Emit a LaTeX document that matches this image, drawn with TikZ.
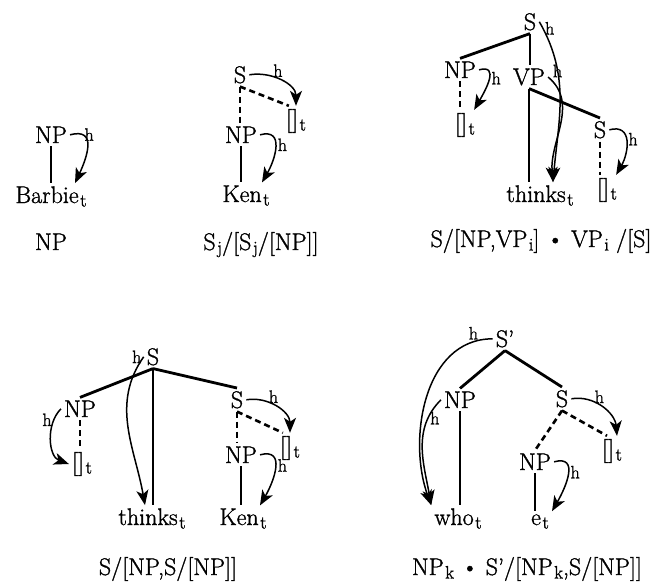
\documentclass[tikz,border=0pt]{standalone}
\usepackage{fontspec}
\setmainfont{Latin Modern Roman}[FakeBold=1.2]
\usepackage{tikz}
\usetikzlibrary{arrows.meta}
\newcommand{\tsub}[1]{\kern1.5pt\raisebox{-3.5pt}{\fontsize{18}{20}\selectfont #1}}

\begin{document}
\begin{tikzpicture}[x=1pt,y=-1pt,
    cat/.style={font=\fontsize{24}{28}\selectfont,inner sep=3pt,anchor=base},
    capt/.style={font=\fontsize{24}{28}\selectfont,inner sep=0pt,anchor=base},
    hl/.style={font=\fontsize{18}{20}\selectfont,inner sep=1.5pt},
    tree/.style={line width=2.8pt},
    dtree/.style={line width=2.6pt,dash pattern=on 6pt off 4pt},
    harc/.style={line width=1.5pt,-{Stealth[length=15pt,width=12pt,inset=4pt]}}]
  \useasboundingbox (0,0) rectangle (658,586);

  % NP
  \node[cat] (np1) at (51,143) {NP};
  \node[cat] (barbie) at (51,203) {Barbie\tsub{t}};
  \draw[tree] (np1.south) -- (np1.south |- barbie.north);
  \draw[harc] (np1.east) to[out=15,in=65,looseness=1.5] node[hl,pos=.2,right]{h} ([xshift=24pt]barbie.north);
  \node[capt] (cap1) at (51,250) {NP};

  % S_j/[S_j/[NP]]
  \node[cat] (s2) at (240,83) {S};
  \node[cat] (tr2) at (296,127) {[]\tsub{t}};
  \node[cat] (np2) at (241,143) {NP};
  \node[cat] (ken1) at (246,202) {Ken\tsub{t}};
  \draw[dtree] (s2.south) -- (s2.south |- np2.north);
  \draw[dtree] (s2.south) -- ([xshift=6pt]tr2.north west);
  \draw[tree] (np2.south) -- (np2.south |- ken1.north);
  \draw[harc] (s2.east) to[out=10,in=90] node[hl,pos=.45,above]{h} (tr2.north);
  \draw[harc] (np2.east) to[out=15,in=60,looseness=1.4] node[hl,pos=.45,right]{h} ([xshift=16pt]ken1.north);
  \node[capt] (cap2) at (261,250) {S\tsub{j}/[S\tsub{j}/[NP]]};

  % S/[NP,VP_i] . VP_i/[S]
  \node[cat] (s3) at (530,30) {S};
  \node[cat] (np3) at (460,78) {NP};
  \node[cat] (vp) at (529,85) {VP};
  \node[cat] (trA) at (465,131) {[]\tsub{t}};
  \node[cat] (s4) at (600,138) {S};
  \node[cat] (trB) at (607,196) {[]\tsub{t}};
  \node[cat] (thinks1) at (540,202) {thinks\tsub{t}};
  \draw[tree] (s3.south) -- (np3.north);
  \draw[tree] (s3.south) -- (s3.south |- vp.north);
  \draw[tree] (vp.south) -- (vp.south |- thinks1.north);
  \draw[tree] (vp.south) -- (s4.north);
  \draw[dtree] (np3.south) -- (np3.south |- trA.north);
  \draw[dtree] (s4.south) -- (s4.south |- trB.north);
  \draw[harc] (np3.east) to[out=15,in=60,looseness=1.4] node[hl,pos=.45,right]{h} ([xshift=-4pt]trA.north east);
  \draw[harc] (s4.east) to[out=15,in=60,looseness=1.4] node[hl,pos=.45,right]{h} ([xshift=-4pt]trB.north east);
  \draw[harc] (s3.east) to[out=-60,in=85] node[hl,pos=.04,right]{h} ([xshift=13pt]thinks1.north);
  \draw[harc] (vp.east) to[out=-40,in=95] node[hl,pos=.03,above right]{h} ([xshift=13pt]thinks1.north);
  \node[capt] (cap3) at (541,247) {S/[NP,VP\tsub{i}] \textbullet{} VP\tsub{i} /[S]};

  % S/[NP,S/[NP]]
  \node[cat] (s5) at (153,365) {S};
  \node[cat] (np4) at (80,417) {NP};
  \node[cat] (trC) at (82,470) {[]\tsub{t}};
  \node[cat] (thinks2) at (152,525) {thinks\tsub{t}};
  \node[cat] (s6) at (237,408) {S};
  \node[cat] (trD) at (290,454) {[]\tsub{t}};
  \node[cat] (np5) at (241,463) {NP};
  \node[cat] (ken2) at (243,525) {Ken\tsub{t}};
  \draw[tree] (s5.south) -- (np4.north);
  \draw[tree] (s5.south) -- (s6.north);
  \draw[tree] (s5.south) -- (s5.south |- thinks2.north);
  \draw[dtree] (np4.south) -- (np4.south |- trC.north);
  \draw[dtree] (s6.south) -- (s6.south |- np5.north);
  \draw[dtree] (s6.south) -- ([xshift=6pt]trD.north west);
  \draw[tree] (np5.south) -- (np5.south |- ken2.north);
  \draw[harc] (s5.west) to[out=235,in=100] node[hl,pos=0,left]{h} ([xshift=-7pt]thinks2.north);
  \draw[harc] (np4.west) to[out=225,in=160] node[hl,pos=.2,left]{h} (trC.west);
  \draw[harc] (s6.east) to[out=10,in=90] node[hl,pos=.45,above]{h} (trD.north);
  \draw[harc] (np5.east) to[out=15,in=60,looseness=1.4] node[hl,pos=.45,right]{h} ([xshift=17pt]ken2.north);
  \node[capt] (cap4) at (168,575) {S/[NP,S/[NP]]};

  % NP_k . S'/[NP_k,S/[NP]]
  \node[cat] (sp) at (505,347) {S'};
  \node[cat] (np6) at (460,408) {NP};
  \node[cat] (s7) at (562,407) {S};
  \node[cat] (np7) at (535,470) {NP};
  \node[cat] (trE) at (612,457) {[]\tsub{t}};
  \node[cat] (who) at (458,525) {who\tsub{t}};
  \node[cat] (e) at (540,525) {e\tsub{t}};
  \draw[tree] (sp.south) -- (np6.north);
  \draw[tree] (sp.south) -- (s7.north);
  \draw[tree] (np6.south) -- (np6.south |- who.north);
  \draw[dtree] (s7.south) -- (np7.north);
  \draw[dtree] (s7.south) -- ([xshift=-5pt]trE.north);
  \draw[tree] (np7.south) -- (np7.south |- e.north);
  \draw[harc] (sp.west) to[out=180,in=110] node[hl,pos=.1,above]{h} (who.north west);
  \draw[harc] (np6.west) to[out=225,in=100] node[hl,pos=.2,right]{h} (who.north west);
  \draw[harc] (s7.east) to[out=10,in=95] node[hl,pos=.45,above]{h} ([xshift=5pt]trE.north);
  \draw[harc] (np7.east) to[out=15,in=60,looseness=1.4] node[hl,pos=.45,right]{h} (e.north east);
  \node[capt] (cap5) at (527,575) {NP\tsub{k} \textbullet{} S'/[NP\tsub{k},S/[NP]]};
\end{tikzpicture}
\end{document}
